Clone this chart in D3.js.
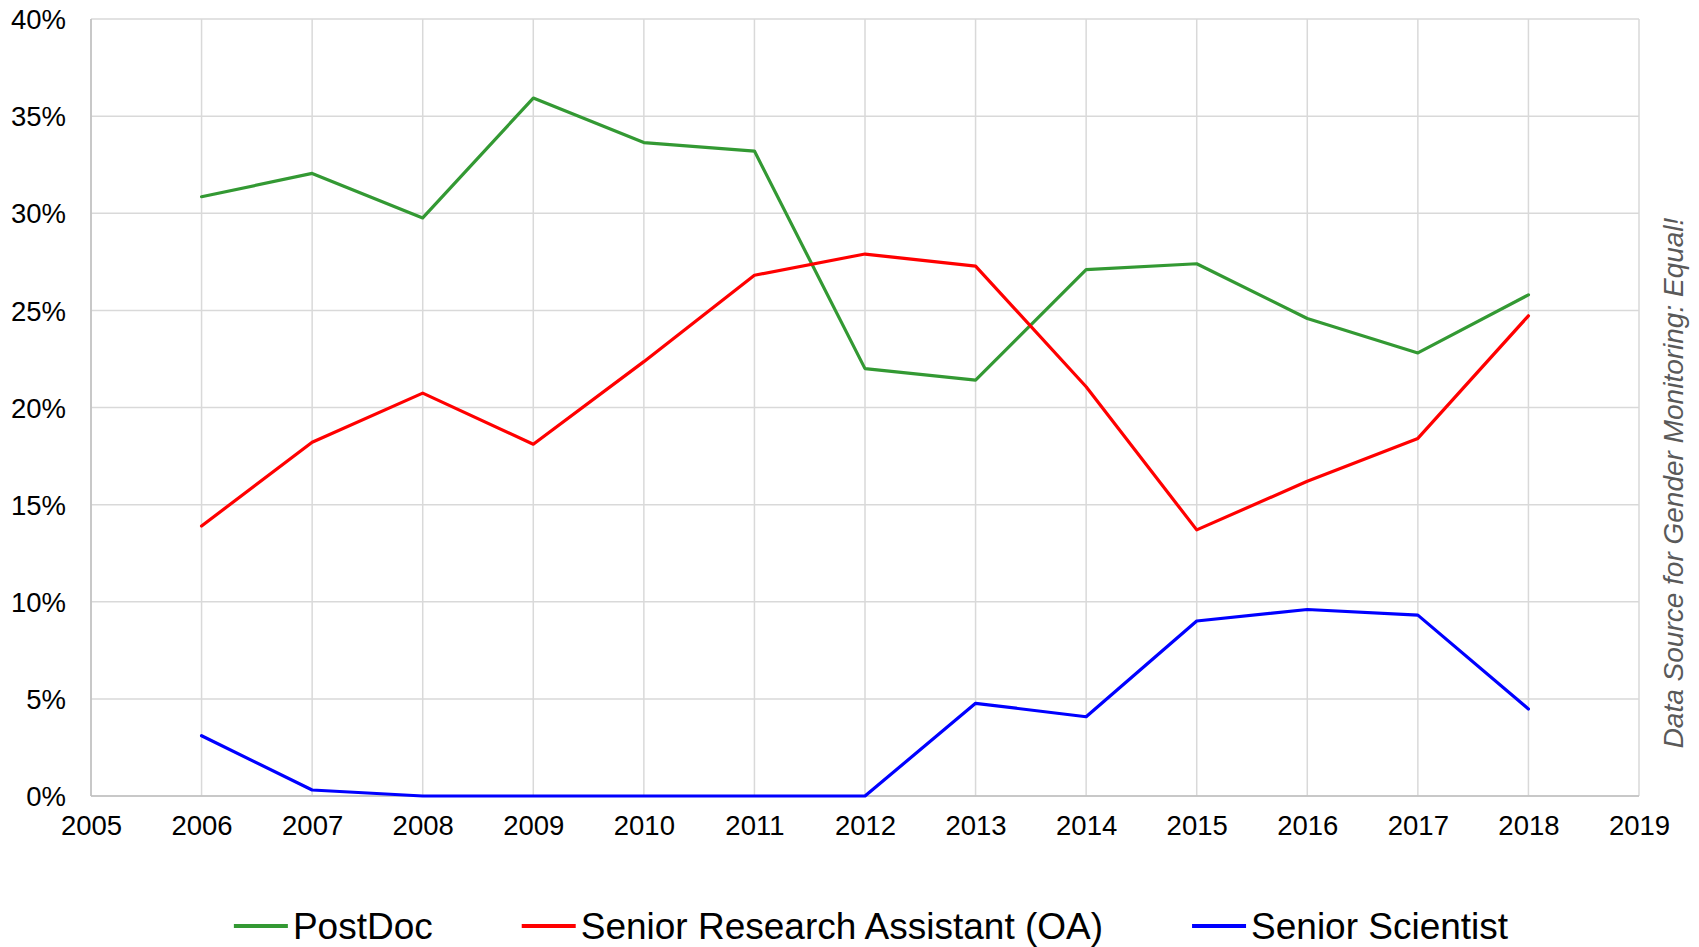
<!DOCTYPE html>
<html><head><meta charset="utf-8">
<script src="https://cdn.jsdelivr.net/npm/d3@7"></script>
<style>html,body{margin:0;padding:0;background:#fff;}</style>
</head><body>
<svg id="chart" width="1699" height="947"></svg>
<script>
const years = [2006,2007,2008,2009,2010,2011,2012,2013,2014,2015,2016,2017,2018];
const postDoc = [30.85,32.05,29.76,35.93,33.64,33.2,22.0,21.41,27.1,27.4,24.58,22.81,25.8];
const seniorRA = [13.9,18.21,20.74,18.11,22.36,26.81,27.9,27.28,21.07,13.7,16.2,18.41,24.72];
const seniorSci = [3.1,0.31,0,0,0,0,0,4.77,4.08,9.01,9.6,9.31,4.48];
const seriesNames = ["PostDoc","Senior Research Assistant (OA)","Senior Scientist"];
const seriesColors = ["#339933","#ff0000","#0000ff"];
const xTicks = [2005,2006,2007,2008,2009,2010,2011,2012,2013,2014,2015,2016,2017,2018,2019];
const yTicks = [0,5,10,15,20,25,30,35,40];
const sourceNote = "Data Source for Gender Monitoring: Equal!";

const svg = d3.select("#chart");
const font = "'Liberation Sans', Arial, sans-serif";
const L = 91, R = 1639, T = 19, B = 796;
const x = d3.scaleLinear().domain([2005,2019]).range([L,R]);
const y = d3.scaleLinear().domain([0,40]).range([B,T]);

// gridlines
svg.append("g").selectAll("line").data(yTicks).join("line")
  .attr("x1",L).attr("x2",R).attr("y1",d=>y(d)).attr("y2",d=>y(d))
  .attr("stroke","#d9d9d9").attr("stroke-width",1.5);
svg.append("g").selectAll("line").data(xTicks).join("line")
  .attr("x1",d=>x(d)).attr("x2",d=>x(d)).attr("y1",T).attr("y2",B)
  .attr("stroke","#d9d9d9").attr("stroke-width",1.5);
// axis lines
svg.append("line").attr("x1",L).attr("x2",L).attr("y1",T).attr("y2",B).attr("stroke","#bfbfbf").attr("stroke-width",1.5);
svg.append("line").attr("x1",L).attr("x2",R).attr("y1",B).attr("y2",B).attr("stroke","#bfbfbf").attr("stroke-width",1.5);

// axes labels via d3 axes
const yAxis = svg.append("g").attr("transform",`translate(${L-25},0)`)
  .call(d3.axisLeft(y).tickValues(yTicks).tickFormat(d=>d+"%").tickSize(0).tickPadding(0));
yAxis.select(".domain").remove();
yAxis.selectAll("text").attr("font-family",font).attr("font-size",27.5).attr("fill","#000").attr("dy","0.35em");

const xAxis = svg.append("g").attr("transform",`translate(0,${B})`)
  .call(d3.axisBottom(x).tickValues(xTicks).tickFormat(d3.format("d")).tickSize(0).tickPadding(19));
xAxis.select(".domain").remove();
xAxis.selectAll("text").attr("font-family",font).attr("font-size",27.5).attr("fill","#000");

// lines
const allSeries = [postDoc, seniorRA, seniorSci];
const line = d3.line().x((d,i)=>x(years[i])).y(d=>y(d));
allSeries.forEach((s,k)=>{
  svg.append("path").datum(s).attr("d",line).attr("fill","none")
    .attr("stroke",seriesColors[k]).attr("stroke-width",3.2)
    .attr("stroke-linejoin","round").attr("stroke-linecap","round");
});

// right note
svg.append("text").attr("transform","translate(1683,483) rotate(-90)")
  .attr("text-anchor","middle").attr("font-family",font).attr("font-style","italic")
  .attr("font-size",28).attr("fill","#595959").text(sourceNote);

// legend
const leg = svg.append("g");
let cx = 0;
const ly = 926;
seriesNames.forEach((n,k)=>{
  const g = leg.append("g").attr("transform",`translate(${cx},0)`);
  g.append("line").attr("x1",0).attr("x2",54).attr("y1",ly).attr("y2",ly)
    .attr("stroke",seriesColors[k]).attr("stroke-width",4);
  const t = g.append("text").attr("x",59).attr("y",ly).attr("dy","0.35em")
    .attr("font-family",font).attr("font-size",37).attr("fill","#000").text(n);
  cx += 59 + t.node().getComputedTextLength() + 89;
});
const totalW = cx - 89;
leg.attr("transform",`translate(${871 - totalW/2},0)`);
</script>
</body></html>
